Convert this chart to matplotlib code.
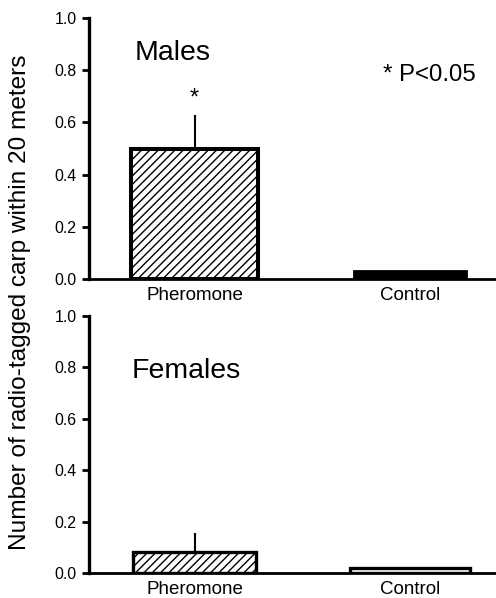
import matplotlib.pyplot as plt

plt.rcParams['font.family'] = ['Liberation Sans', 'DejaVu Sans']
plt.rcParams['hatch.linewidth'] = 1.0

# Data
categories = ["Pheromone", "Control"]
males_mean = [0.50, 0.03]
males_err = [0.13, 0.0]
females_mean = [0.08, 0.02]
females_err = [0.075, 0.0]

fig = plt.figure(figsize=(4.96, 5.98), dpi=100)
ax_top = fig.add_axes([0.1794, 0.5334, 0.8206, 0.4365])
ax_bot = fig.add_axes([0.1794, 0.0418, 0.8206, 0.4298])

x = range(len(categories))


def style_axes(ax):
    ax.set_ylim(0, 1.0)
    ax.set_xlim(-0.49, 1.40)
    ax.set_yticks([0.0, 0.2, 0.4, 0.6, 0.8, 1.0])
    ax.set_yticklabels(["0.0", "0.2", "0.4", "0.6", "0.8", "1.0"])
    ax.set_xticks(list(x))
    ax.set_xticklabels(categories, fontsize=13.5)
    ax.spines['top'].set_visible(False)
    ax.spines['right'].set_visible(False)
    ax.spines['left'].set_linewidth(2.4)
    ax.spines['bottom'].set_linewidth(2.0)
    ax.tick_params(axis='y', direction='out', length=5, width=2.0, pad=4, labelsize=11.4)
    ax.tick_params(axis='x', length=0, pad=6)


# Males
ax_top.bar(0, males_mean[0], width=0.59, color='white', edgecolor='black',
           linewidth=2.9, hatch='////', zorder=2)
ax_top.bar(1, males_mean[1], width=0.52, color='black', edgecolor='black',
           linewidth=2.0, zorder=2)
ax_top.errorbar([0], [males_mean[0]], yerr=[[0], [males_err[0]]], fmt='none',
                ecolor='black', elinewidth=1.5, capsize=0, zorder=1)
ax_top.text(0, 0.69, "*", ha='center', va='center', fontsize=17)
ax_top.text(-0.28, 0.84, "Males", fontsize=20.5, ha='left', va='baseline')
ax_top.text(0.876, 0.76, "* P<0.05", fontsize=17.3, ha='left', va='baseline')
style_axes(ax_top)

# Females
ax_bot.bar(0, females_mean[0], width=0.57, color='white', edgecolor='black',
           linewidth=2.4, hatch='////', zorder=2)
ax_bot.bar(1, females_mean[1], width=0.56, color='white', edgecolor='black',
           linewidth=2.4, zorder=2)
ax_bot.errorbar([0], [females_mean[0]], yerr=[[0], [females_err[0]]], fmt='none',
                ecolor='black', elinewidth=1.5, capsize=0, zorder=1)
ax_bot.text(-0.29, 0.76, "Females", fontsize=20.5, ha='left', va='baseline')
style_axes(ax_bot)

fig.text(0.040, 0.495, "Number of radio-tagged carp within 20 meters",
         rotation=90, ha='center', va='center', fontsize=17.6)

fig.savefig("out.png", dpi=100)
